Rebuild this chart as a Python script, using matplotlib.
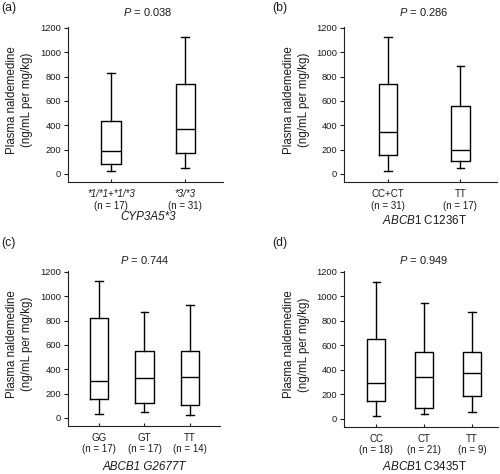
import matplotlib
matplotlib.use("Agg")
import matplotlib.pyplot as plt

plt.rcParams['font.family'] = ['Liberation Sans', 'DejaVu Sans']
plt.rcParams['mathtext.fontset'] = 'custom'
plt.rcParams['mathtext.rm'] = 'Liberation Sans'
plt.rcParams['mathtext.it'] = 'Liberation Sans:italic'

TXT = '#1a1a1a'

# ---- data ----
a_groups = ["*1/*1+*1/*3", "*3/*3"]
a_n = [17, 31]
a_whislo = [27, 52]
a_q1 = [80, 170]
a_med = [189, 368]
a_q3 = [439, 739]
a_whishi = [829, 1123]
a_p = "0.038"

b_groups = ["CC+CT", "TT"]
b_n = [31, 17]
b_whislo = [27, 52]
b_q1 = [159, 104]
b_med = [346, 200]
b_q3 = [741, 555]
b_whishi = [1123, 884]
b_p = "0.286"

c_groups = ["GG", "GT", "TT"]
c_n = [17, 17, 14]
c_whislo = [33, 49, 27]
c_q1 = [159, 120, 104]
c_med = [301, 332, 337]
c_q3 = [822, 551, 551]
c_whishi = [1123, 871, 932]
c_p = "0.744"

d_groups = ["CC", "CT", "TT"]
d_n = [18, 21, 9]
d_whislo = [27, 38, 55]
d_q1 = [150, 90, 188]
d_med = [295, 346, 371]
d_q3 = [655, 548, 548]
d_whishi = [1118, 944, 875]
d_p = "0.949"

y_ticks = [0, 200, 400, 600, 800, 1000, 1200]
y_label = "Plasma naldemedine\n(ng/mL per mg/kg)"

W, H = 500, 474
fig = plt.figure(figsize=(W / 100, H / 100), dpi=100)


def px_axes(l, t, r, b):
    return fig.add_axes([l / W, 1 - b / H, (r - l) / W, (b - t) / H])


def pt(px):
    return px * 0.72


def panel(ax, groups, ns, whislo, q1, med, q3, whishi, pval, xlim, width,
          capw, xlabel, geno_italic, xlabel_italic, label_x, p_off, xl_off,
          n_pad, tag, tag_xy):
    stats = []
    for i in range(len(groups)):
        stats.append(dict(med=med[i], q1=q1[i], q3=q3[i],
                          whislo=whislo[i], whishi=whishi[i], fliers=[]))
    pos = list(range(1, len(groups) + 1))
    lw = 1.0
    ax.bxp(stats, positions=pos, widths=width, capwidths=capw,
           showfliers=False, manage_ticks=False,
           boxprops=dict(color='black', linewidth=lw),
           medianprops=dict(color='black', linewidth=lw),
           whiskerprops=dict(color='black', linewidth=lw),
           capprops=dict(color='black', linewidth=lw))
    ax.set_xlim(*xlim)
    ax.set_ylim(-66, 1208)
    for s in ['top', 'right']:
        ax.spines[s].set_visible(False)
    for s in ['left', 'bottom']:
        ax.spines[s].set_linewidth(0.8)
        ax.spines[s].set_color('#222222')
    ax.set_yticks(y_ticks)
    ax.tick_params(axis='y', direction='out', length=pt(4), width=0.8,
                   labelsize=6.7, pad=pt(3), colors=TXT)
    ax.set_xticks(pos)
    ax.set_xticklabels([f"(n = {n})" for n in ns])
    ax.tick_params(axis='x', direction='in', length=pt(3), width=0.8,
                   labelsize=7, pad=pt(n_pad), colors=TXT)
    for p, g in zip(pos, groups):
        ax.annotate(g, xy=(p, 0), xycoords=('data', 'axes fraction'),
                    xytext=(0, -pt(12)), textcoords='offset points',
                    ha='center', va='center', fontsize=7, color=TXT,
                    style='italic' if geno_italic else 'normal')
    mid = sum(pos) / len(pos)
    ax.annotate(xlabel, xy=(mid, 0), xycoords=('data', 'axes fraction'),
                xytext=(0, -pt(xl_off)), textcoords='offset points',
                ha='center', va='center', fontsize=8.4, color=TXT,
                style='italic' if xlabel_italic else 'normal')
    ax.annotate(r"$\mathit{P}$ = " + pval, xy=(mid, 1),
                xycoords=('data', 'axes fraction'),
                xytext=(0, pt(p_off)), textcoords='offset points',
                ha='center', va='center', fontsize=8, color=TXT)
    ax.set_ylabel(y_label, fontsize=8.3, linespacing=1.35, color=TXT)
    ax.yaxis.set_label_coords(label_x, 0.53)
    fig.text(tag_xy[0] / W, 1 - tag_xy[1] / H, tag, fontsize=8.8,
             ha='left', va='center', color=TXT)


ax_a = px_axes(68, 27, 223, 182)
panel(ax_a, a_groups, a_n, a_whislo, a_q1, a_med, a_q3, a_whishi, a_p,
      (0.42, 2.51), 0.26, 0.1, "CYP3A5*3", True, True, -0.226,
      15, 35, 19, "(a)", (1, 8))

ax_b = px_axes(344, 27, 497, 182)
panel(ax_b, b_groups, b_n, b_whislo, b_q1, b_med, b_q3, b_whishi, b_p,
      (0.39, 2.51), 0.26, 0.1, r"$\mathit{ABCB1}$ C1236T", False, False,
      -0.22, 15, 39, 19, "(b)", (272, 8))

ax_c = px_axes(68, 271, 220, 426)
panel(ax_c, c_groups, c_n, c_whislo, c_q1, c_med, c_q3, c_whishi, c_p,
      (0.32, 3.66), 0.40, 0.16, "ABCB1 G2677T", False, True, -0.23,
      11, 41, 18, "(c)", (1, 243))

ax_d = px_axes(344, 271, 498, 427)
panel(ax_d, d_groups, d_n, d_whislo, d_q1, d_med, d_q3, d_whishi, d_p,
      (0.33, 3.54), 0.375, 0.15, r"$\mathit{ABCB1}$ C3435T", False, False,
      -0.22, 11, 40, 18, "(d)", (272, 243))

fig.savefig("out.png", dpi=100)
